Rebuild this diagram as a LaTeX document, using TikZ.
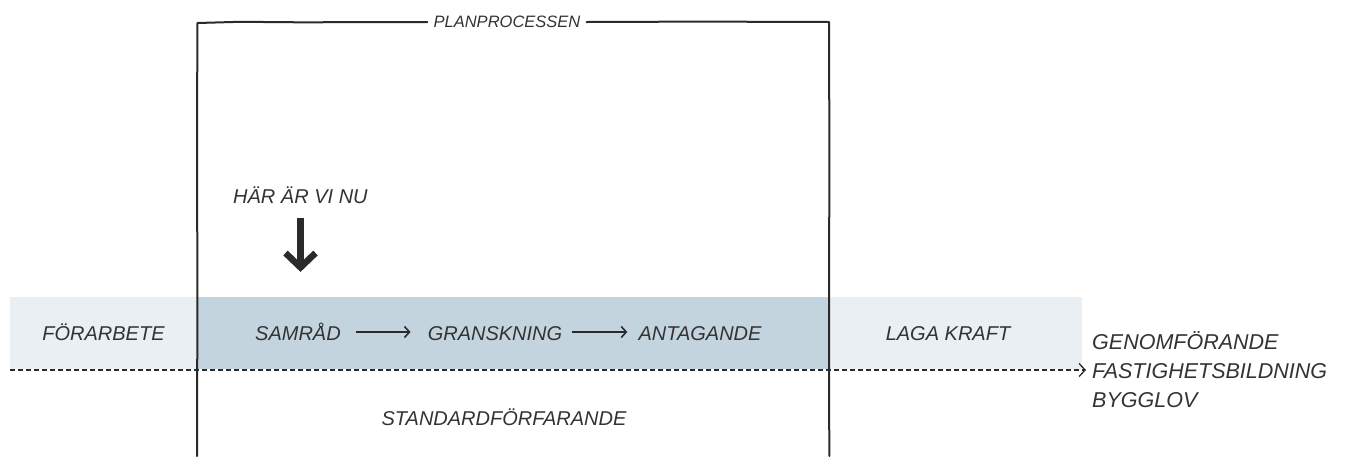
\documentclass[tikz,border=0pt]{standalone}
\usepackage{fontspec}
\setmainfont{Liberation Sans}
\usetikzlibrary{arrows.meta,calc}
\definecolor{ink}{HTML}{2A2A2A}
\definecolor{txt}{HTML}{333333}
\definecolor{bandlight}{HTML}{E9EFF3}
\definecolor{banddark}{HTML}{C4D4DE}
\begin{document}
\begin{tikzpicture}[x=1pt,y=-1pt,
  lbl/.style={font=\fontsize{20}{24}\selectfont\itshape, text=txt, inner sep=0pt, anchor=base},
  outlbl/.style={font=\fontsize{21.5}{26}\selectfont\itshape, text=txt, inner sep=0pt, anchor=base west},
  smalllbl/.style={font=\fontsize{16.5}{20}\selectfont\itshape, text=txt, inner sep=0pt, anchor=base},
  boxline/.style={draw=ink, line width=2pt, line join=round, line cap=round},
  flow/.style={draw=ink, line width=1.8pt, -{Straight Barb[length=5pt,width=11pt,line width=1.6pt]}},
  timeline/.style={draw=ink, line width=1.3pt, dash pattern=on 5pt off 3pt,
    -{Straight Barb[length=6pt,width=13pt,line width=1.3pt]}},
  pointer/.style={draw=ink, line width=7pt}]
\useasboundingbox (0,0) rectangle (1361,456);

% phase band
\fill[bandlight] (10,297) rectangle (1082,369);
\fill[banddark] (198,297) rectangle (829,369);

% timeline
\coordinate (tstart) at (10,370);
\coordinate (tend) at (1086,370);
\draw[timeline] (tstart) -- (tend);

% frame of the plan process
\node[smalllbl] (plan) at (507,27) {PLANPROCESSEN};
\draw[boxline] ($(plan.base west)+(-6,-5)$) -- (300,22.3) -- (240,21.8) -- (197.5,23) -- (197,120) -- (197.4,300) -- (197,456);
\draw[boxline] ($(plan.base east)+(6,-5)$) -- (700,21.6) -- (829,22) -- (829.4,150) -- (829,320) -- (829.3,456);

% phases
\node[lbl] (forarb) at (103.5,340) {FÖRARBETE};
\node[lbl] (samrad) at (298,340) {SAMRÅD};
\node[lbl] (gransk) at (495,340) {GRANSKNING};
\node[lbl] (antag) at (700,340) {ANTAGANDE};
\node[lbl] (laga) at (948,340) {LAGA KRAFT};
\draw[flow] ($(samrad.base east)+(15,-8)$) -- ($(gransk.base west)+(-17,-8)$);
\draw[flow] ($(gransk.base east)+(10,-8)$) -- ($(antag.base west)+(-11,-8)$);

\node[lbl] (standard) at (504,425) {STANDARDFÖRFARANDE};

% after the plan
\node[outlbl] (genom) at (1092,349.5) {GENOMFÖRANDE};
\node[outlbl] (fastig) at (1092,378.5) {FASTIGHETSBILDNING};
\node[outlbl] (bygg) at (1092,407.5) {BYGGLOV};

% current position marker
\node[lbl, anchor=base west] (har) at (233,203) {HÄR ÄR VI NU};
\coordinate (ptop) at (300.5,218);
\coordinate (ptip) at (300.5,272);
\draw[pointer] (ptop) -- ($(ptip)+(0,-8)$);
\draw[pointer, line width=6.5pt, line join=miter] ($(ptip)+(-15,-19)$) -- ($(ptip)+(0,-4.6)$) -- ($(ptip)+(15,-19)$);
\end{tikzpicture}
\end{document}
